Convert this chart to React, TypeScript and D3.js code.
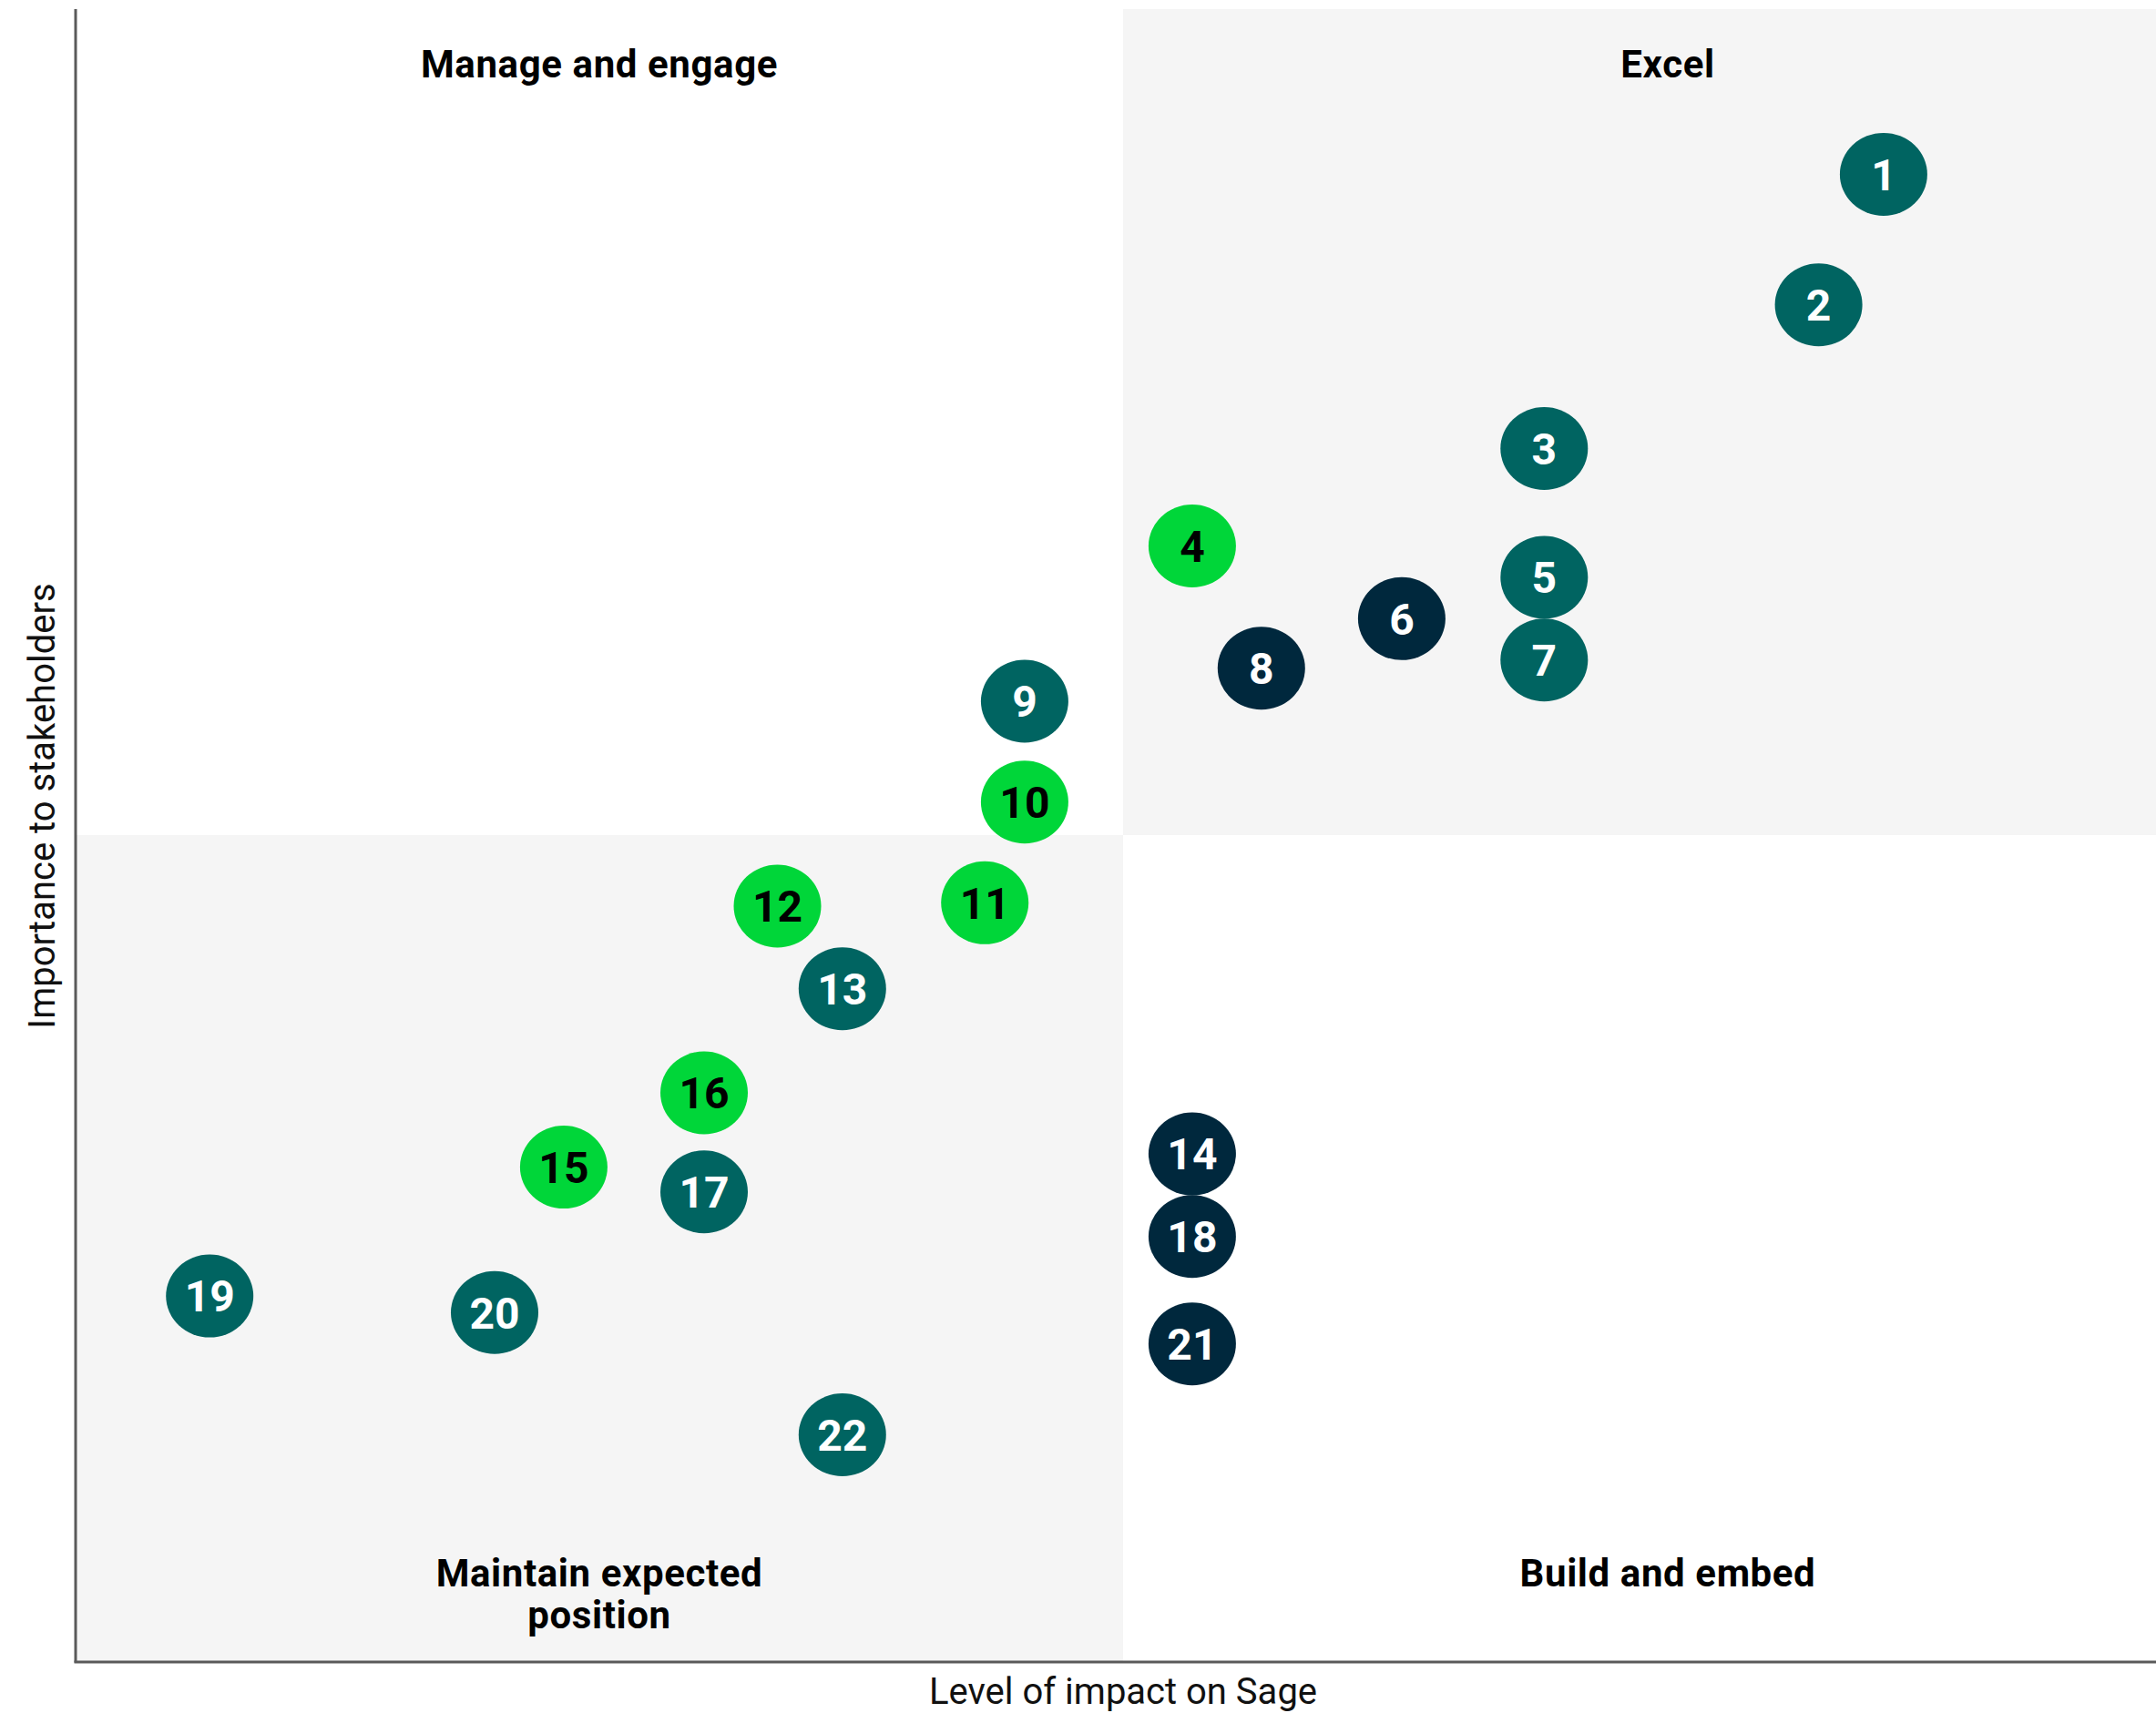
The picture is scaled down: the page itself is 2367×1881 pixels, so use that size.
import React from "react";
import * as d3 from "d3";

const W = 2367;
const H = 1881;

// Topic numbers, positions (impact on Sage, importance to stakeholders) and group
const ids = [1, 2, 3, 4, 5, 6, 7, 8, 9, 10, 11, 12, 13, 14, 15, 16, 17, 18, 19, 20, 21, 22];
const impact = [8.63, 8.32, 7.01, 5.33, 7.01, 6.33, 7.01, 5.66, 4.53, 4.53, 4.34, 3.35, 3.66, 5.33, 2.33, 3.0, 3.0, 5.33, 0.64, 2.0, 5.33, 3.66];
const importance = [9.0, 8.21, 7.34, 6.75, 6.56, 6.31, 6.06, 6.01, 5.81, 5.2, 4.59, 4.57, 4.07, 3.07, 2.99, 3.44, 2.84, 2.57, 2.21, 2.11, 1.92, 1.37];
const groups = ["teal", "teal", "teal", "green", "teal", "navy", "teal", "navy", "teal", "green", "green", "green", "teal", "navy", "green", "green", "teal", "navy", "teal", "teal", "navy", "teal"];

const groupFill: Record<string, string> = { teal: "#006461", navy: "#00283D", green: "#00D639" };
const groupText: Record<string, string> = { teal: "#ffffff", navy: "#ffffff", green: "#000000" };

const quadrantLabels = [
  { lines: ["Manage and engage"], qx: 0, qy: 1 },
  { lines: ["Excel"], qx: 1, qy: 1 },
  { lines: ["Maintain expected", "position"], qx: 0, qy: 0 },
  { lines: ["Build and embed"], qx: 1, qy: 0 },
];

const xTitle = "Level of impact on Sage";
const yTitle = "Importance to stakeholders";

export default function App() {
  const left = 83;
  const right = 2383;
  const top = 10;
  const bottom = 1824;

  const x = d3.scaleLinear().domain([0, 10]).range([left, right]);
  const y = d3.scaleLinear().domain([0, 10]).range([bottom, top]);
  const midX = x(5);
  const midY = y(5);

  const font = "Roboto, 'Noto Sans', sans-serif";

  return (
    <svg
      width={W}
      height={H}
      style={{ position: "absolute", left: 0, top: 0, background: "#ffffff" }}
      fontFamily={font}
    >
      <rect x={0} y={0} width={W} height={H} fill="#ffffff" />
      {/* shaded quadrants */}
      <rect x={midX} y={top} width={right - midX} height={midY - top} fill="#F5F5F5" />
      <rect x={left} y={midY} width={midX - left} height={bottom - midY} fill="#F5F5F5" />

      {/* quadrant labels */}
      {quadrantLabels.map((q, i) => {
        const lx = q.qx === 0 ? (left + midX) / 2 : 1831;
        const baseY = q.qy === 1 ? 85 : 1742;
        return (
          <text
            key={i}
            x={lx}
            y={baseY}
            textAnchor="middle"
            fontSize={42}
            fontWeight={700}
            letterSpacing={0.6}
            fill="#000"
          >
            {q.lines.map((l, j) => (
              <tspan key={j} x={lx} dy={j === 0 ? 0 : 46}>
                {l}
              </tspan>
            ))}
          </text>
        );
      })}

      {/* axes */}
      <line x1={left} x2={left} y1={top} y2={bottom + 1.5} stroke="#5A5A5A" strokeWidth={3} />
      <line x1={left - 1.5} x2={W} y1={bottom + 1} y2={bottom + 1} stroke="#5A5A5A" strokeWidth={3} />

      {/* axis titles */}
      <text x={midX} y={1871} textAnchor="middle" fontSize={40} fill="#111">
        {xTitle}
      </text>
      <text
        transform={`translate(60, ${(top + bottom) / 2 - 32}) rotate(-90)`}
        textAnchor="middle"
        fontSize={40}
        fill="#111"
      >
        {yTitle}
      </text>

      {/* points */}
      {ids.map((id, i) => {
        const cx = x(impact[i]);
        const cy = y(importance[i]);
        const g = groups[i];
        return (
          <g key={id}>
            <ellipse cx={cx} cy={cy} rx={48} ry={45.5} fill={groupFill[g]} />
            <text
              x={cx}
              y={cy}
              dy="0.36em"
              textAnchor="middle"
              fontSize={48}
              fontWeight={700}
              fill={groupText[g]}
            >
              {id}
            </text>
          </g>
        );
      })}
    </svg>
  );
}
